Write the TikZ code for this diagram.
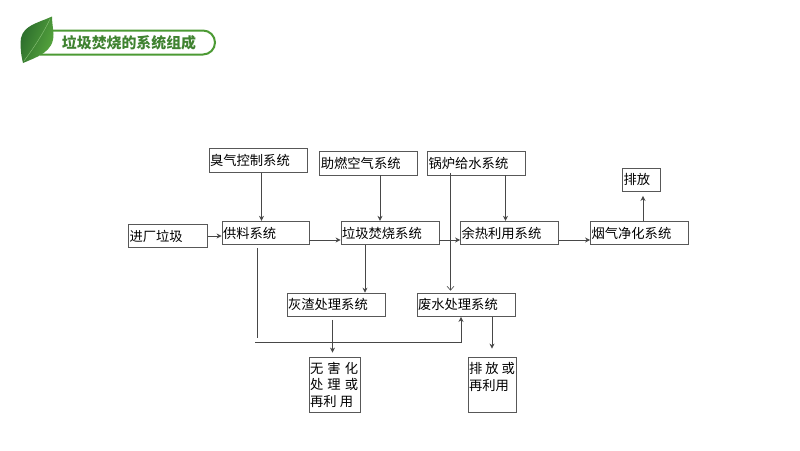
\documentclass[tikz,border=0pt]{standalone}
\usepackage{fontspec}
\setmainfont{Noto Sans CJK SC}
\usepackage{tikz}
\usetikzlibrary{positioning,arrows.meta,calc}
\definecolor{leafgreen}{HTML}{4C9A34}
\definecolor{titlegreen}{HTML}{3F8230}
\definecolor{boxgray}{HTML}{585858}
\definecolor{leafdark}{HTML}{2A6A2C}
\definecolor{leaflight}{HTML}{58A83E}
\tikzset{
  sysbox/.style={draw=boxgray,line width=0.8pt,rectangle,inner xsep=1pt,inner ysep=2pt,text width=#1-2pt,minimum height=23.5pt,align=left,font=\fontsize{13.3}{16.5}\selectfont},
  sysbox/.default=98pt,
  link/.style={draw=black!72,line width=0.8pt},
}
\begin{document}
\begin{tikzpicture}[x=1pt,y=-1pt,>={Stealth[length=5pt,width=5pt]}]
\useasboundingbox (0,0) rectangle (800,450);
\draw[leafgreen,line width=2pt] (40,30.5) -- (203,30.5) arc[start angle=-90,end angle=90,radius=12] -- (40,54.5);
\node[font=\fontsize{14.9}{16}\selectfont\bfseries,text=titlegreen,inner sep=0pt] (title) at (129,43) {垃圾焚烧的系统组成};
\shade[left color=leafdark,right color=leaflight,shading angle=70,draw=none]
  (52,16.5) .. controls (38,23) and (24,25) .. (21,38) .. controls (20,46) and (21,55) .. (23,63)
  .. controls (37,57) and (54,52) .. (53.5,34) .. controls (53,27) and (52,22) .. (52,16.5) -- cycle;
\draw[leaflight!70!white,line width=0.4pt] (24,61) .. controls (32,50) and (42,36) .. (50,19);

\node[sysbox] (smell) at (258,160.5) {臭气控制系统};
\node[sysbox] (air) at (368.8,163.2) {助燃空气系统};
\node[sysbox] (boilwater) at (476.5,163.2) {锅炉给水系统};
\node[sysbox=38pt] (vent) at (641.5,179.8) {排放};
\node[sysbox=79pt] (intake) at (168,236) {进厂垃圾};
\node[sysbox=87pt] (feed) at (265.5,233) {供料系统};
\node[sysbox] (burn) at (390,233) {垃圾焚烧系统};
\node[sysbox] (heat) at (509.5,233) {余热利用系统};
\node[sysbox] (flue) at (639.5,233) {烟气净化系统};
\node[sysbox] (ash) at (336,304.8) {灰渣处理系统};
\node[sysbox] (water) at (466,304.8) {废水处理系统};
\node[sysbox=51.5pt,minimum height=55pt] (safe) at (334.8,384.5) {\makebox[48pt][s]{无\hfil 害\hfil 化}\\\makebox[48pt][s]{处\hfil 理\hfil 或}\\\makebox[43pt][s]{再利\hfil 用}};
\node[sysbox=48.5pt,minimum height=55pt] (reuse) at (492.3,384.5) {\makebox[46pt][s]{排\hfil 放\hfil 或}\\再利用\\\mbox{}};

\coordinate (feedend) at (257,338);
\coordinate (busleft) at (255,342.5);
\coordinate (busright) at (461,342.5);

\draw[link,->] ([xshift=3.5]smell.south) -- ([xshift=-4]feed.north);
\draw[link,->] ([xshift=11.2]air.south) -- ([xshift=-10]burn.north);
\draw[link,->] ([xshift=29]boilwater.south) -- ([xshift=-4]heat.north);
\draw[link,-{Straight Barb[length=4pt,width=7pt]},line width=0.6pt] ([xshift=-26,yshift=2]boilwater.south) -- ([xshift=-15.5,yshift=2]water.north);
\draw[link,->] ([xshift=3.5]flue.north) -- ([xshift=1.5,yshift=-4]vent.south);
\draw[link,->] (intake.east) -- (feed.west |- intake.east);
\draw[link,->] (feed.east |- 0,240) -- (burn.west |- 0,240);
\draw[link,->] (burn.east |- 0,240) -- (heat.west |- 0,240);
\draw[link,->] (heat.east |- 0,240) -- (flue.west |- 0,240);
\draw[link,->] ([xshift=-25]burn.south) -- ([xshift=29]ash.north);
\draw[link] ([xshift=-8.5,yshift=-3]feed.south) -- (feedend);
\draw[link,->] (busleft) -- (busright) -- ([xshift=-5]water.south);
\draw[link,->] ([xshift=-3.5,yshift=-3]ash.south) -- ([xshift=-2.3,yshift=4]safe.north);
\draw[link,->] ([xshift=26]water.south) -- ([xshift=-0.3,yshift=8]reuse.north);
\end{tikzpicture}
\end{document}
